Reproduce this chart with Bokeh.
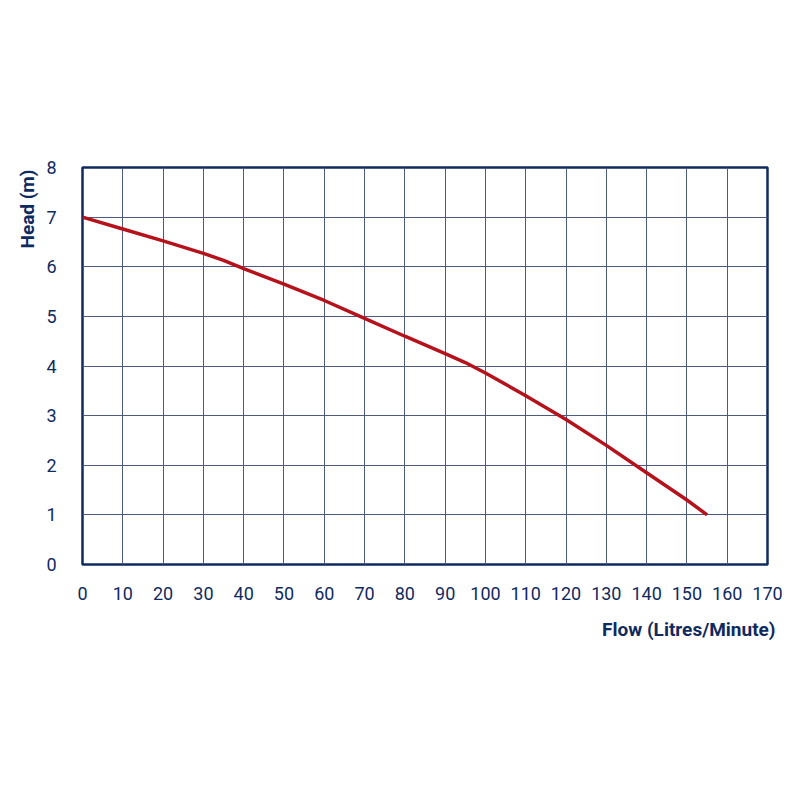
from bokeh.plotting import figure
from bokeh.models import Title, FixedTicker, Range1d
from bokeh.embed import file_html
from bokeh.resources import INLINE

flow = [0, 10, 20, 30, 35, 40, 50, 60, 70, 80, 90, 95, 100, 110, 120, 130, 140, 150, 155]
head = [7.0, 6.76, 6.52, 6.27, 6.13, 5.96, 5.65, 5.32, 4.96, 4.6, 4.25, 4.07, 3.86, 3.4, 2.92, 2.4, 1.85, 1.3, 1.0]
x_ticks = list(range(0, 171, 10))
y_ticks = list(range(0, 9))

NAVY = "#0f2a5f"
GRID = "#4d5b82"
RED = "#b5121b"
FONT = "Roboto"

p = figure(width=792, height=792, output_backend="svg", toolbar_location=None,
           x_range=Range1d(0, 170), y_range=Range1d(0, 8),
           min_border_left=82, min_border_right=25, min_border_top=167, min_border_bottom=228)
p.background_fill_color = "white"
p.border_fill_color = "white"
p.outline_line_color = NAVY
p.outline_line_width = 2.5

p.xaxis.ticker = FixedTicker(ticks=x_ticks)
p.yaxis.ticker = FixedTicker(ticks=y_ticks)
for ax in (p.xaxis, p.yaxis):
    ax.axis_line_color = None
    ax.major_tick_line_color = None
    ax.minor_tick_line_color = None
    ax.major_label_text_color = NAVY
    ax.major_label_text_font = FONT
    ax.major_label_text_font_size = "18px"
    ax.major_label_text_font_style = "normal"
p.xaxis.major_label_standoff = 16
p.yaxis.major_label_standoff = 20

p.xgrid.grid_line_color = GRID
p.ygrid.grid_line_color = GRID
p.xgrid.grid_line_width = 1
p.ygrid.grid_line_width = 1

p.line(flow, head, line_color=RED, line_width=3.5)

xt = Title(text="Flow (Litres/Minute)", align="right", offset=-8, standoff=26,
           text_color=NAVY, text_font=FONT, text_font_size="19px", text_font_style="bold")
p.add_layout(xt, "below")
yt = Title(text="Head (m)", align="right", offset=2, standoff=10,
           text_color=NAVY, text_font=FONT, text_font_size="19px", text_font_style="bold")
p.add_layout(yt, "left")

open("out.html", "w").write(file_html(p, INLINE))
